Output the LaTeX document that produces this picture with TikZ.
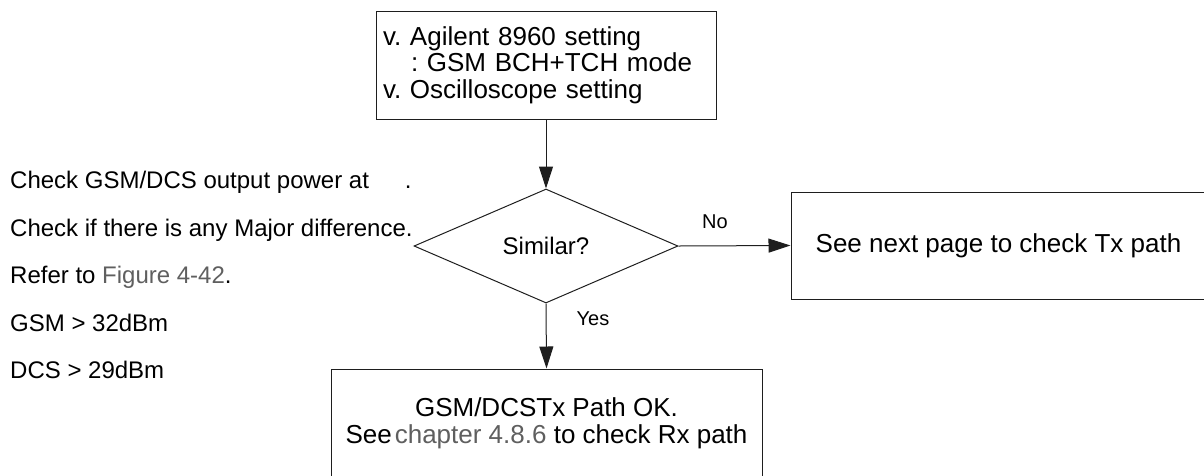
\documentclass[tikz,border=0pt]{standalone}
\usepackage{fontspec}
\setmainfont{Liberation Sans}
\usetikzlibrary{shapes.geometric,arrows.meta}
\definecolor{linkgray}{RGB}{95,95,95}
\definecolor{linecol}{RGB}{30,30,30}
\frenchspacing
\begin{document}
\begin{tikzpicture}[x=1pt,y=-1pt,
  box/.style={draw=linecol,line width=1pt,rectangle,inner ysep=0pt},
  decision/.style={draw=linecol,line width=1pt,diamond,inner sep=0pt,
    minimum width=264pt,minimum height=114pt,font=\fontsize{24}{26}\selectfont},
  conn/.style={draw=linecol,line width=1pt,-{Triangle[length=22pt,width=14pt]}},
  lbl/.style={inner sep=0pt,font=\fontsize{20}{22}\selectfont},
  note/.style={inner sep=0pt,anchor=base west,font=\fontsize{24}{26}\selectfont}
]
\useasboundingbox (0,0) rectangle (1204,475);

\node[box,text width=326pt,inner xsep=7pt,minimum height=108pt,align=left,
      font=\fontsize{26}{26.5}\selectfont] (top) at (546,65)
  {v. Agilent 8960 setting\\\hspace*{28pt}: GSM BCH+TCH mode\\v. Oscilloscope setting};

\node[decision] (dec) at (546,246) {Similar?};

\node[box,minimum width=415pt,minimum height=107pt,inner xsep=0pt,
      font=\fontsize{26}{27}\selectfont] (nxt) at (998.5,245.5)
  {See next page to check Tx path};

\node[box,minimum width=431pt,minimum height=109pt,inner xsep=0pt,align=center,
      font=\fontsize{26}{27}\selectfont] (ok) at (546.5,423.5)
  {GSM/DCSTx Path OK.\\See\hspace{3pt}{\color{linkgray}chapter 4.8.6} to check Rx path};

\draw[conn] (top.south) -- (dec.north);
\draw[conn] (dec.east) -- (nxt.west);
\draw[conn] (dec.south) -- (ok.north);

\node[lbl,anchor=base] (no) at (715,228) {No};
\node[lbl,anchor=base] (yes) at (593,325) {Yes};

\node[note] (n1) at (10,188) {Check GSM/DCS output power at\hspace{36pt}.};
\node[note] (n2) at (10,236) {Check if there is any Major difference.};
\node[note] (n3) at (10,283.5) {Refer to {\color{linkgray}Figure 4-42}.};
\node[note] (n4) at (10,331) {GSM > 32dBm};
\node[note] (n5) at (10,378.5) {DCS > 29dBm};
\end{tikzpicture}
\end{document}
